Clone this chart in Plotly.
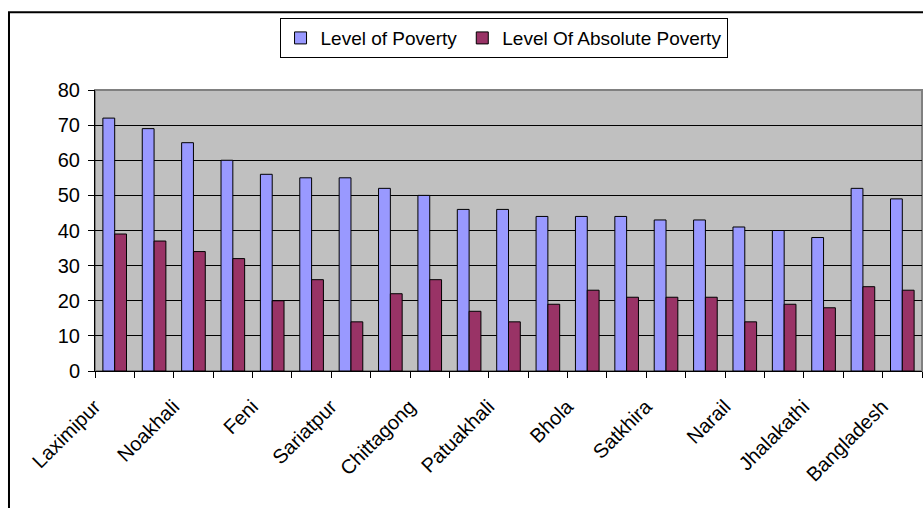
import plotly.graph_objects as go

# Poverty levels (%) by district, ranked, with the national figure at the end
tick_labels = ["Laximipur", "Noakhali", "Feni", "Sariatpur", "Chittagong",
               "Patuakhali", "Bhola", "Satkhira", "Narail", "Jhalakathi",
               "Bangladesh"]
poverty = [72, 69, 65, 60, 56, 55, 55, 52, 50, 46, 46,
           44, 44, 44, 43, 43, 41, 40, 38, 52, 49]
absolute_poverty = [39, 37, 34, 32, 20, 26, 14, 22, 26, 17, 14,
                    19, 23, 21, 21, 21, 14, 19, 18, 24, 23]
y_ticks = [0, 10, 20, 30, 40, 50, 60, 70, 80]

positions = list(range(len(poverty)))
FONT = "Arial, Liberation Sans, sans-serif"

fig = go.Figure()
fig.add_trace(go.Bar(
    x=positions, y=poverty, name="Level of Poverty",
    marker=dict(color="#9999FF", line=dict(color="black", width=1)),
))
fig.add_trace(go.Bar(
    x=positions, y=absolute_poverty, name="Level Of Absolute Poverty",
    marker=dict(color="#993366", line=dict(color="black", width=1)),
))

fig.update_layout(
    width=923, height=508,
    margin=dict(l=95, r=1, t=90, b=137),
    paper_bgcolor="white",
    plot_bgcolor="#C0C0C0",
    barmode="group", bargap=0.4, bargroupgap=0,
    font=dict(family=FONT, size=20, color="black"),
    showlegend=True,
    legend=dict(
        orientation="h", x=0.494, xanchor="center", y=1.256, yanchor="top",
        bgcolor="white", bordercolor="black", borderwidth=1,
        font=dict(family=FONT, size=19, color="black"),
        itemwidth=30, traceorder="normal",
    ),
    xaxis=dict(
        range=[-0.5, len(poverty) - 0.5],
        tickmode="array", tickvals=positions[::2], ticktext=tick_labels,
        tickangle=-45, ticks="", showgrid=False,
        ticklabelshift=-20, ticklabelstandoff=15,
        showline=True, linecolor="black", linewidth=1,
        zeroline=False,
        minor=dict(
            tickmode="array",
            tickvals=[p - 0.5 for p in positions] + [positions[-1] + 0.5],
            ticks="outside", ticklen=6, tickcolor="black", tickwidth=1,
            showgrid=False,
        ),
    ),
    yaxis=dict(
        range=[0, 80], tickmode="array", tickvals=y_ticks,
        ticks="outside", ticklen=6, tickcolor="black",
        showgrid=True, gridcolor="black", gridwidth=1,
        showline=True, linecolor="black", linewidth=1,
        zeroline=False, ticklabelstandoff=4,
    ),
    shapes=[
        # grey plot-area frame
        dict(type="rect", xref="paper", yref="paper", x0=0, x1=1, y0=0, y1=1,
             line=dict(color="#808080", width=2), layer="below"),
        # outer chart border
        dict(type="rect", xref="paper", yref="paper",
             x0=-0.104, x1=1.012, y0=-0.55, y1=1.277,
             line=dict(color="black", width=2), layer="above"),
    ],
)

fig.write_html("out.html")
